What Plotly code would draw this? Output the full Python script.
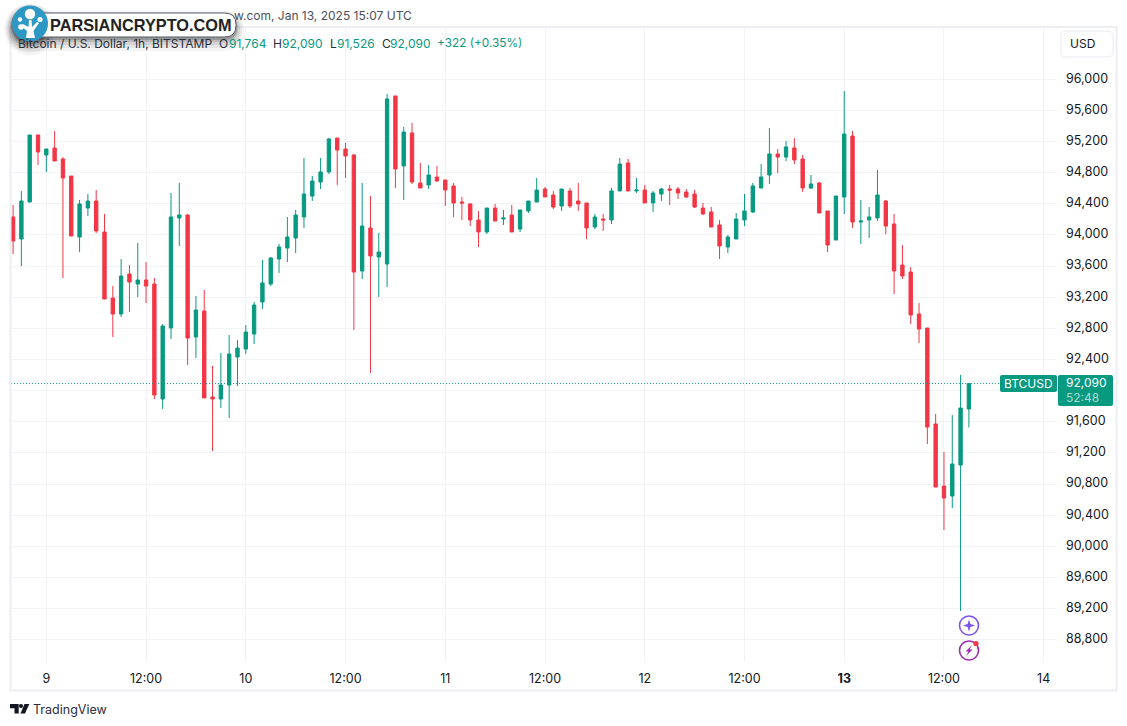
import pandas as pd
import plotly.graph_objects as go

START = "2025-01-08 20:00"
opens = [94230,93947,94422,95283,95026,95116,94975,94756,93973,94345,94435,94037,93189,92984,93497,93369,93420,93369,91892,92804,94217,94255,92688,93022,91918,91892,92072,92431,92534,92727,93138,93369,93690,93831,93960,94230,94499,94679,94808,95244,95103,95026,93536,94088,93716,93626,95784,94885,95309,94666,94641,94743,94705,94628,94422,94397,94191,94037,94345,94204,94255,94075,94307,94422,94589,94512,94371,94564,94435,94410,94101,94204,94191,94564,94923,94564,94576,94410,94525,94589,94589,94551,94525,94345,94294,94127,93844,93947,94191,94294,94602,94769,95039,95000,95116,94975,94602,94666,94307,93934,94487,95270,94165,94191,94217,94435,94140,93613,93523,92984,92804,91571,90774,90646,91044,91764]
highs = [94384,94564,95283,95283,95103,95334,95000,94756,94448,94525,94576,94268,93343,93690,93613,93896,93652,93446,92855,94538,94666,94268,93215,93292,92316,92483,92714,92650,92842,93138,93677,93716,93883,94230,94320,94987,94756,94987,95244,95244,95180,95039,94666,94499,94024,95810,95784,95386,95437,94923,94898,94885,94705,94666,94487,94410,94307,94345,94397,94320,94384,94320,94435,94731,94615,94564,94589,94602,94666,94410,94268,94268,94602,94987,94975,94731,94641,94564,94602,94641,94615,94589,94576,94410,94358,94191,93998,94281,94525,94666,94910,95373,95103,95206,95244,95026,94769,94679,94307,94499,95848,95334,94448,94358,94833,94448,94268,93870,93587,93125,92804,91699,91211,91686,92200,92090]
lows = [93754,93600,94422,94898,94808,94949,93446,93986,93780,94242,94024,93176,92688,92945,93009,93202,93125,91892,91763,92662,93857,92329,92418,91905,91224,91776,91648,92059,92470,92598,93048,93343,93510,93652,93767,94088,94435,94589,94782,94641,94731,92778,93433,92226,93202,93330,94602,94448,94654,94602,94589,94679,94371,94230,94191,94114,93844,94011,94178,94127,94037,94037,94281,94422,94487,94332,94307,94345,94307,93947,94075,94050,94140,94564,94564,94538,94410,94294,94435,94384,94461,94474,94345,94255,94101,93690,93767,93947,94114,94281,94602,94654,94795,94949,94910,94551,94589,94281,93780,93934,94268,94088,93883,93960,94178,94011,93241,93433,92855,92611,91314,90761,90209,90492,89169,91526]
closes = [93921,94435,95283,95065,95103,94949,94731,93986,94397,94435,94050,93176,92984,93472,93395,93420,93343,91943,92830,94230,94255,92675,93035,91905,91892,92072,92470,92547,92752,93099,93382,93703,93844,93973,94255,94525,94692,94808,95232,95090,95013,93523,94114,93729,93780,95745,94846,95321,94679,94602,94769,94692,94576,94410,94410,94191,94037,94345,94178,94217,94037,94320,94435,94576,94487,94358,94589,94371,94397,94088,94230,94191,94564,94910,94564,94576,94410,94538,94589,94576,94538,94487,94358,94268,94101,93857,93973,94204,94307,94628,94743,95039,95000,95129,94962,94602,94654,94281,93870,94499,95296,94165,94178,94230,94512,94114,93536,93472,92971,92791,91532,90761,90620,91057,91776,92090]

y_ticks = [88800,89200,89600,90000,90400,90800,91200,91600,92000,92400,92800,93200,93600,94000,94400,94800,95200,95600,96000]
y_tick_text = ["88,800","89,200","89,600","90,000","90,400","90,800","91,200","91,600","","92,400","92,800","93,200","93,600","94,000","94,400","94,800","95,200","95,600","96,000"]
x_tick_vals = ["2025-01-09 00:00","2025-01-09 12:00","2025-01-10 00:00","2025-01-10 12:00","2025-01-11 00:00","2025-01-11 12:00","2025-01-12 00:00","2025-01-12 12:00","2025-01-13 00:00","2025-01-13 12:00","2025-01-14 00:00"]
x_tick_text = ["9","12:00","10","12:00","11","12:00","12","12:00","<b>13</b>","12:00","14"]
last_price = 92090

W, H = 1127, 726
L, R, T, B = 11, 1057, 27, 662
UP, DOWN = "#089981", "#F23645"
FONT = "Inter, 'Noto Sans', sans-serif"
INK = "#131722"
GRID = "#f2f3f7"

def px(x): return (x - L) / (R - L)
def py(y): return (B - y) / (B - T)

def rr(x0, y0, x1, y1, r):
    a, b, c, d = px(x0), py(y0), px(x1), py(y1)
    rx, ry = r / (R - L), r / (B - T)
    return (f"M{a+rx},{b} L{c-rx},{b} Q{c},{b} {c},{b-ry} L{c},{d+ry} Q{c},{d} {c-rx},{d} "
            f"L{a+rx},{d} Q{a},{d} {a},{d+ry} L{a},{b-ry} Q{a},{b} {a+rx},{b} Z")

def poly(points):
    return "M" + " L".join(f"{px(x)},{py(y)}" for x, y in points) + " Z"

def path_shape(path, fill="rgba(0,0,0,0)", line=None, width=0):
    return dict(type="path", xref="paper", yref="paper", path=path, fillcolor=fill, layer="above",
                line=dict(color=line or "rgba(0,0,0,0)", width=width))

def rect(x0, y0, x1, y1, fill, line=None, width=0):
    return dict(type="rect", xref="paper", yref="paper", x0=px(x0), x1=px(x1), y0=py(y0), y1=py(y1),
                fillcolor=fill, layer="above", line=dict(color=line or "rgba(0,0,0,0)", width=width))

def circ(cx, cy, r, fill, line=None, width=0):
    return dict(type="circle", xref="paper", yref="paper", x0=px(cx - r), x1=px(cx + r), y0=py(cy + r), y1=py(cy - r),
                fillcolor=fill, layer="above", line=dict(color=line or "rgba(0,0,0,0)", width=width))

def label(x, y, text, size=12, color=INK, anchor="left", **kw):
    return dict(xref="paper", yref="paper", x=px(x), y=py(y), text=text, showarrow=False, xanchor=anchor, yanchor="middle",
                font=dict(family=kw.pop("family", FONT), size=size, color=color), borderpad=0, **kw)

fig = go.Figure(go.Candlestick(
    x=pd.date_range(START, periods=len(opens), freq="h"),
    open=opens, high=highs, low=lows, close=closes,
    whiskerwidth=0,
    increasing=dict(line=dict(color=UP, width=1), fillcolor=UP),
    decreasing=dict(line=dict(color=DOWN, width=1), fillcolor=DOWN),
    hoverinfo="skip", showlegend=False,
))

shapes = [
    dict(type="line", xref="paper", yref="y", x0=0, x1=px(1000), y0=last_price, y1=last_price, layer="above",
         line=dict(color=UP, width=1, dash="1px,2px")),
    rect(10.5, 27, 1116.5, 690.5, "rgba(0,0,0,0)", "#eceef4", 2),
    # last price tags
    path_shape(rr(1000, 375, 1057, 392, 2), UP),
    path_shape(rr(1058, 375, 1113, 406, 2), UP),
    # USD button
    path_shape(rr(1061, 31, 1113, 57, 5), "#ffffff", "#e8eaf0", 1),
    # event icons
    circ(969, 625.5, 9.5, "#ffffff", "#7b52f5", 1.6),
    path_shape(poly([(969, 619.5), (970.4, 624), (975, 625.5), (970.4, 627), (969, 631.5), (967.6, 627), (963, 625.5), (967.6, 624)]), "#7b52f5"),
    circ(969, 650.5, 9.5, "#ffffff", "#9c27b0", 1.6),
    path_shape(poly([(972, 645), (965.5, 651.5), (968.5, 651.5), (966, 656), (972.5, 649.5), (969.5, 649.5)]), "#9c27b0"),
    circ(976, 643.5, 2.6, "#F23645"),
    # TradingView mark
    path_shape(poly([(10, 704), (18.7, 704), (18.7, 713.5), (14.5, 713.5), (14.5, 708.2), (10, 708.2)]), INK),
    circ(21, 706, 2.1, INK),
    path_shape(poly([(24.5, 704), (29.3, 704), (25, 713.5), (20.5, 713.5)]), INK),
]
# brand badge shadow
for grow, drop, alpha in [(8, 6, 0.04), (6, 5, 0.06), (4, 4, 0.08), (2, 3, 0.12), (1, 2, 0.18)]:
    shapes.append(path_shape(rr(15 - grow, 13 - grow + drop, 236 + grow, 37 + grow + drop, 12 + grow), f"rgba(0,0,0,{alpha})"))
    shapes.append(circ(30, 23.5 + drop, 18 + grow, f"rgba(0,0,0,{alpha})"))
shapes += [
    path_shape(rr(16, 13, 236, 37, 11.5), "#ffffff", "#555b63", 1),
    circ(30, 23.5, 18, "#2e98c4"),
    # tree mark in the badge
    path_shape(poly([(26, 38), (35, 38), (33.5, 31), (39, 23), (37, 22), (32, 27), (31.5, 20), (29, 20), (28.5, 27), (23, 24), (21, 26), (27, 31)]), "#ffffff"),
    circ(30, 14, 5.2, "#ffffff"),
    circ(40, 19.5, 2.6, "#ffffff"),
    circ(20, 19.5, 2.2, "#ffffff"),
    circ(21, 27, 2.8, "#ffffff"),
]

annotations = [
    label(413, 15.5, "w.com, Jan 13, 2025 15:07 UTC", 12, "#4a4f5c", "right"),
    label(48.5, 25, "<b>PARSIANCRYPTO.COM</b>", 16.3, "#222222", family="'Liberation Sans', Arial, sans-serif"),
    label(17, 43, "Bitcoin / U.S. Dollar, 1h, BITSTAMP", 12, "#2a2e39"),
    label(218, 43, "O", 12, "#2a2e39"), label(228, 43, "91,764", 12, UP),
    label(272, 43, "H", 12, "#2a2e39"), label(281, 43, "92,090", 12, UP),
    label(329, 43, "L", 12, "#2a2e39"), label(336, 43, "91,526", 12, UP),
    label(381, 43, "C", 12, "#2a2e39"), label(389, 43, "92,090", 12, UP),
    label(436, 43, "+322 (+0.35%)", 11.8, UP),
    label(1002.5, 383.5, "BTCUSD", 12, "#ffffff"),
    label(1065, 382.5, "92,090", 12, "#ffffff"),
    label(1065, 397, "52:48", 12, "#a6dbd0"),
    label(1069, 43.5, "USD", 12, "#131722"),
    label(31.5, 709.5, "TradingView", 12.5, "#2a2e39"),
]

fig.update_layout(
    width=W, height=H, autosize=False,
    margin=dict(l=L, r=W - R, t=T, b=H - B),
    paper_bgcolor="#ffffff", plot_bgcolor="#ffffff",
    font=dict(family=FONT, size=12, color=INK),
    boxgap=0.42,
    showlegend=False,
    shapes=shapes, annotations=annotations,
    xaxis=dict(type="date", range=["2025-01-08 19:45", "2025-01-14 01:36"], tickmode="array",
               tickvals=x_tick_vals, ticktext=x_tick_text, showgrid=True, gridcolor=GRID, gridwidth=1,
               showline=False, zeroline=False, ticks="", tickangle=0, ticklabelstandoff=7,
               tickfont=dict(size=12.5, color=INK), rangeslider=dict(visible=False)),
    yaxis=dict(side="right", range=[88514, 96670], tickmode="array", tickvals=y_ticks,
               ticktext=y_tick_text, showgrid=True, gridcolor=GRID, gridwidth=1,
               showline=False, zeroline=False, ticks="", ticklabelstandoff=8, ticklabelshift=-1,
               tickfont=dict(size=12.5, color=INK)),
)

fig.write_html("out.html", post_script="document.body.style.margin='0';", config=dict(displayModeBar=False))
